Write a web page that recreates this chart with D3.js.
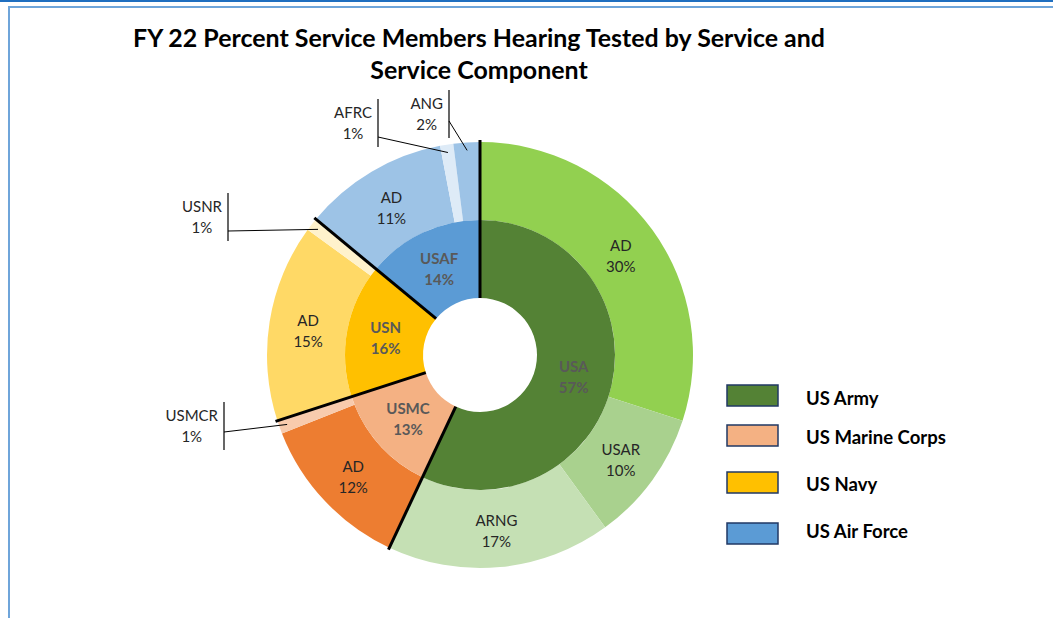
<!DOCTYPE html>
<html>
<head>
<meta charset="utf-8">
<script src="https://cdn.jsdelivr.net/npm/d3@7"></script>
<style>
  body { margin: 0; background: #fff; }
  svg { display: block; font-family: Lato, "Open Sans", sans-serif; }
</style>
</head>
<body>
<svg id="chart" width="1053" height="618"></svg>
<script>
const titleLines = ["FY 22 Percent Service Members Hearing Tested by Service and", "Service Component"];

const services = ["USA", "USMC", "USN", "USAF"];
const serviceNames = ["US Army", "US Marine Corps", "US Navy", "US Air Force"];
const serviceValues = [57, 13, 16, 14];
const serviceColors = ["#548235", "#F4B183", "#FFC000", "#5B9BD5"];

const components = ["AD", "USAR", "ARNG", "AD", "USMCR", "AD", "USNR", "AD", "AFRC", "ANG"];
const componentService = ["USA", "USA", "USA", "USMC", "USMC", "USN", "USN", "USAF", "USAF", "USAF"];
const componentValues = [30, 10, 17, 12, 1, 15, 1, 11, 1, 2];
const componentColors = ["#92D050", "#A9D18E", "#C5E0B4", "#ED7D31", "#F8CBAD", "#FFD966", "#FFF2CC", "#9DC3E6", "#DEEBF7", "#9DC3E6"];

// small slices get their label outside, with a leader line
const callouts = {
    USMCR: {barX: 224, barTop: 402, attachY: 432},
    USNR: {barX: 228, barTop: 193, attachY: 231},
    AFRC: {barX: 378, barTop: 99, attachY: 137},
    ANG: {barX: 449, barTop: 90, attachY: 121}
};

const width = 1053, height = 618;
const cx = 480, cy = 355;
const rHole = 57, rMid = 135, rOuter = 213;

const svg = d3.select("#chart");

// frame
svg.append("rect").attr("x", 0).attr("y", 0).attr("width", width).attr("height", 2).attr("fill", "#1F6FC0");
svg.append("path")
    .attr("d", `M9,${height} L9,7 L${width},7`)
    .attr("fill", "none")
    .attr("stroke", "#6FA5DA")
    .attr("stroke-width", 2);

// title
const title = svg.append("g").attr("font-weight", "bold").attr("fill", "#000").attr("text-anchor", "middle");
const t1 = title.append("text").attr("x", 479).attr("y", 47).attr("font-size", 22).text(titleLines[0]);
const fit = 692 / t1.node().getComputedTextLength();
const titleSize = 22 * fit;
t1.attr("font-size", titleSize);
title.append("text").attr("x", 479).attr("y", 79).attr("font-size", titleSize).text(titleLines[1]);

const chart = svg.append("g").attr("transform", `translate(${cx},${cy})`);

const pie = d3.pie().sort(null).value(d => d.value);

const serviceData = services.map((s, i) => ({name: s, value: serviceValues[i], color: serviceColors[i]}));
const componentData = components.map((c, i) => ({name: c, service: componentService[i], value: componentValues[i], color: componentColors[i]}));

const innerArcs = pie(serviceData);
const outerArcs = pie(componentData);

const innerArc = d3.arc().innerRadius(rHole).outerRadius(rMid);
const outerArc = d3.arc().innerRadius(rMid).outerRadius(rOuter);
const leaderArc = d3.arc().innerRadius(205).outerRadius(205);

chart.selectAll("path.outer")
    .data(outerArcs)
    .join("path")
    .attr("class", "outer")
    .attr("d", outerArc)
    .attr("fill", d => d.data.color);

chart.selectAll("path.inner")
    .data(innerArcs)
    .join("path")
    .attr("class", "inner")
    .attr("d", innerArc)
    .attr("fill", d => d.data.color);

// black separators between services
chart.selectAll("line.sep")
    .data(innerArcs)
    .join("line")
    .attr("class", "sep")
    .attr("x1", d => rHole * Math.sin(d.startAngle))
    .attr("y1", d => -rHole * Math.cos(d.startAngle))
    .attr("x2", d => 215 * Math.sin(d.startAngle))
    .attr("y2", d => -215 * Math.cos(d.startAngle))
    .attr("stroke", "#000")
    .attr("stroke-width", 3);

const fmt = v => v + "%";

// inner labels
const innerLabels = chart.selectAll("g.ilabel")
    .data(innerArcs)
    .join("g")
    .attr("class", "ilabel")
    .attr("transform", d => `translate(${innerArc.centroid(d)})`)
    .attr("text-anchor", "middle")
    .attr("font-weight", "bold")
    .attr("font-size", 15)
    .attr("fill", "#595959");
innerLabels.append("text").attr("y", -4).text(d => d.data.name);
innerLabels.append("text").attr("y", 17).text(d => fmt(d.data.value));

// outer labels inside the ring
const inside = outerArcs.filter(d => !callouts[d.data.name]);
const outerLabels = chart.selectAll("g.olabel")
    .data(inside)
    .join("g")
    .attr("class", "olabel")
    .attr("transform", d => `translate(${outerArc.centroid(d)})`)
    .attr("text-anchor", "middle")
    .attr("font-size", 15)
    .attr("fill", "#262626");
outerLabels.append("text").attr("y", -2).text(d => d.data.name);
outerLabels.append("text").attr("y", 19).text(d => fmt(d.data.value));

// callouts
const outside = outerArcs.filter(d => callouts[d.data.name]);
outside.forEach(d => {
    const c = callouts[d.data.name];
    const g = svg.append("g").attr("font-size", 15).attr("fill", "#262626").attr("text-anchor", "middle");
    const end = leaderArc.centroid(d);
    g.append("line")
        .attr("x1", c.barX).attr("y1", c.barTop)
        .attr("x2", c.barX).attr("y2", c.barTop + 48)
        .attr("stroke", "#000").attr("stroke-width", 1.2);
    g.append("line")
        .attr("x1", c.barX).attr("y1", c.attachY)
        .attr("x2", cx + end[0]).attr("y2", cy + end[1])
        .attr("stroke", "#000").attr("stroke-width", 1);
    const name = g.append("text").attr("y", c.barTop + 19).text(d.data.name);
    const w = name.node().getComputedTextLength();
    const tx = c.barX - 6 - w / 2;
    name.attr("x", tx);
    g.append("text").attr("x", tx).attr("y", c.barTop + 40).text(fmt(d.data.value));
});

// legend
const legendY = [385, 425, 472, 523];
const legendTextY = [405, 444, 491, 538];
const legend = svg.append("g");
legend.selectAll("rect")
    .data(serviceData)
    .join("rect")
    .attr("x", 727)
    .attr("y", (d, i) => legendY[i])
    .attr("width", 51)
    .attr("height", 21)
    .attr("fill", d => d.color)
    .attr("stroke", "#203864")
    .attr("stroke-width", 1.5);
const legendText = legend.selectAll("text")
    .data(serviceData)
    .join("text")
    .attr("x", 806)
    .attr("y", (d, i) => legendTextY[i])
    .attr("font-weight", "bold")
    .attr("font-size", 17)
    .attr("fill", "#000")
    .text((d, i) => serviceNames[i]);
const lw = legendText.filter((d, i) => i === 1).node().getComputedTextLength();
legendText.attr("font-size", 17 * 140 / lw);
</script>
</body>
</html>
